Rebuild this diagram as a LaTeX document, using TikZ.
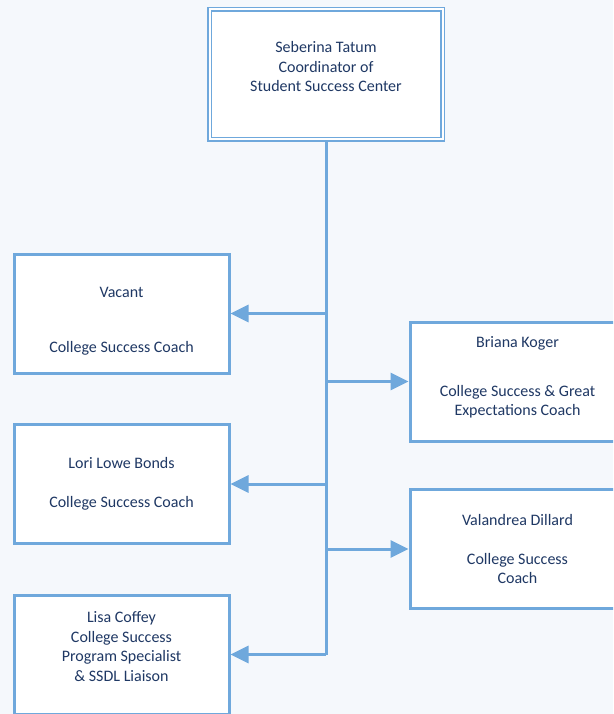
\documentclass[tikz,border=0pt]{standalone}
\usepackage{fontspec}
\setmainfont{Carlito}
\usetikzlibrary{arrows.meta}

\definecolor{chartblue}{HTML}{6FA8DC}
\definecolor{chartbg}{HTML}{F5F8FC}
\definecolor{chartnavy}{HTML}{1F3864}

% struts that move a text block inside its box
\newcommand{\pushdown}[1]{\rule{0pt}{#1}}
\newcommand{\pullup}[1]{\rule[-#1]{0pt}{0pt}}

\begin{document}
\begin{tikzpicture}[x=1pt,y=-1pt,
	box/.style={draw=chartblue, line width=3pt, fill=white, minimum width=215pt,
		minimum height=119pt, inner sep=0pt, align=center, text=chartnavy,
		font=\fontsize{16}{19.5}\selectfont},
	headbox/.style={box, line width=1.5pt, double=white, double distance=2pt,
		minimum width=233pt, minimum height=130pt},
	feed/.style={draw=chartblue, line width=3pt, -{Triangle[length=18pt,width=17pt]}}]

	% page
	\fill[chartbg] (0,0) rectangle (613,714);
	\clip (0,0) rectangle (613,714);

	% coordinator
	\node[headbox] (tatum) at (326,74.5)
		{Seberina Tatum\\Coordinator of\\Student Success Center\pullup{16pt}};

	% coaches on the left
	\node[box] (vacant) at (121.5,313.5)
		{\pushdown{26pt}Vacant\\[35.5pt]College Success Coach};
	\node[box] (bonds) at (121.5,484)
		{Lori Lowe Bonds\\[19.5pt]College Success Coach};
	\node[box] (coffey) at (121.5,654.5)
		{Lisa Coffey\\College Success\\Program Specialist\\\& SSDL Liaison\pullup{16pt}};

	% coaches on the right
	\node[box] (koger) at (517.5,381.5)
		{Briana Koger\\[29.5pt]College Success \& Great\\Expectations Coach\pullup{11pt}};
	\node[box] (dillard) at (517.5,549)
		{Valandrea Dillard\\[19pt]College Success\\Coach};

	% trunk
	\draw[chartblue, line width=3pt] (tatum.south) -- (tatum.south |- coffey.east);

	% feeds
	\draw[feed] (tatum.south |- vacant.east) -- (vacant.east);
	\draw[feed] (tatum.south |- bonds.east) -- (bonds.east);
	\draw[feed] (tatum.south |- coffey.east) -- (coffey.east);
	\draw[feed] (tatum.south |- koger.west) -- (koger.west);
	\draw[feed] (tatum.south |- dillard.west) -- (dillard.west);

\end{tikzpicture}
\end{document}
